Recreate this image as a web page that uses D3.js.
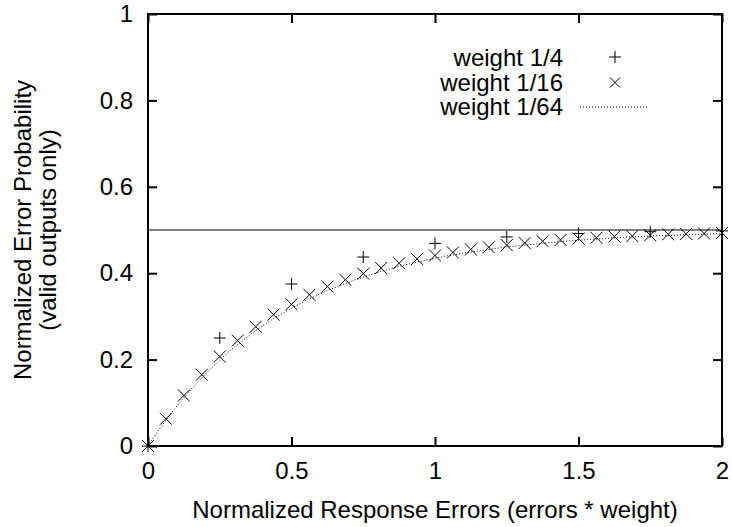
<!DOCTYPE html>
<html>
<head>
<meta charset="utf-8">
<script src="https://cdn.jsdelivr.net/npm/d3@7"></script>
<style>
    html, body { margin: 0; padding: 0; background: #fff; }
    svg { display: block; }
    text { font-family: "Liberation Sans", Arial, Helvetica, sans-serif; fill: #000; }
</style>
</head>
<body>
<div id="chart"></div>
<script>
// tick values
const xTicks = [0, 0.5, 1, 1.5, 2];
const yTicks = [0, 0.2, 0.4, 0.6, 0.8, 1];

// weight 1/4 (+) : x = errors / 4
const w4X = [0, 0.25, 0.5, 0.75, 1, 1.25, 1.5, 1.75, 2];
const w4Y = [0, 0.25, 0.375, 0.4375, 0.469, 0.484, 0.492, 0.496, 0.498];

// weight 1/16 (x) : x = errors / 16
const w16X = [0, 0.0625, 0.125, 0.1875, 0.25, 0.3125, 0.375, 0.4375, 0.5, 0.5625, 0.625, 0.6875,
    0.75, 0.8125, 0.875, 0.9375, 1, 1.0625, 1.125, 1.1875, 1.25, 1.3125, 1.375, 1.4375,
    1.5, 1.5625, 1.625, 1.6875, 1.75, 1.8125, 1.875, 1.9375, 2];
const w16Y = [0, 0.063, 0.117, 0.165, 0.207, 0.244, 0.276, 0.304, 0.328, 0.350, 0.369, 0.385,
    0.399, 0.412, 0.423, 0.433, 0.441, 0.448, 0.455, 0.460, 0.465, 0.470, 0.474, 0.477,
    0.480, 0.482, 0.485, 0.486, 0.488, 0.490, 0.491, 0.492, 0.493];

// weight 1/64 (dotted line), sampled every 1/32
const w64X = [0, 0.03125, 0.0625, 0.09375, 0.125, 0.15625, 0.1875, 0.21875, 0.25, 0.28125, 0.3125,
    0.34375, 0.375, 0.40625, 0.4375, 0.46875, 0.5, 0.53125, 0.5625, 0.59375, 0.625, 0.65625,
    0.6875, 0.71875, 0.75, 0.78125, 0.8125, 0.84375, 0.875, 0.90625, 0.9375, 0.96875, 1,
    1.03125, 1.0625, 1.09375, 1.125, 1.15625, 1.1875, 1.21875, 1.25, 1.28125, 1.3125, 1.34375,
    1.375, 1.40625, 1.4375, 1.46875, 1.5, 1.53125, 1.5625, 1.59375, 1.625, 1.65625, 1.6875,
    1.71875, 1.75, 1.78125, 1.8125, 1.84375, 1.875, 1.90625, 1.9375, 1.96875, 2];
const w64Y = [0, 0.031, 0.060, 0.087, 0.112, 0.136, 0.158, 0.179, 0.199, 0.218, 0.235,
    0.251, 0.267, 0.281, 0.295, 0.307, 0.319, 0.330, 0.341, 0.350, 0.360, 0.368,
    0.376, 0.384, 0.391, 0.398, 0.404, 0.410, 0.416, 0.421, 0.426, 0.430, 0.435,
    0.439, 0.442, 0.446, 0.449, 0.452, 0.455, 0.458, 0.461, 0.463, 0.465, 0.467,
    0.469, 0.471, 0.473, 0.475, 0.476, 0.478, 0.479, 0.480, 0.482, 0.483, 0.484,
    0.485, 0.486, 0.487, 0.487, 0.488, 0.489, 0.490, 0.490, 0.491, 0.491];

const limitY = 0.5;

const legendLabels = ['weight 1/4', 'weight 1/16', 'weight 1/64'];

class ErrorChart {
    constructor(containerId) {
        this.containerId = containerId;
        this.dimensions = {
            width: 732,
            height: 527,
            left: 148,
            right: 722,
            top: 14,
            bottom: 446
        };
        this.fontSize = 24;
        this.tickLen = 9;
    }

    draw() {
        const { width, height, left, right, top, bottom } = this.dimensions;

        const svg = d3.select(this.containerId)
            .append('svg')
            .attr('width', width)
            .attr('height', height);

        const x = d3.scaleLinear().domain([0, 2]).range([left, right]);
        const y = d3.scaleLinear().domain([0, 1]).range([bottom, top]);

        // ticks on all four sides (mirrored, pointing inward)
        const xAxis = d3.axisBottom(x).tickValues(xTicks).tickSize(-this.tickLen).tickFormat(d3.format('~g'));
        const xAxisTop = d3.axisTop(x).tickValues(xTicks).tickSize(-this.tickLen).tickFormat('');
        const yAxis = d3.axisLeft(y).tickValues(yTicks).tickSize(-this.tickLen).tickFormat(d3.format('~g'));
        const yAxisRight = d3.axisRight(y).tickValues(yTicks).tickSize(-this.tickLen).tickFormat('');

        const gx = svg.append('g').attr('transform', `translate(0,${bottom})`).call(xAxis);
        svg.append('g').attr('transform', `translate(0,${top})`).call(xAxisTop);
        const gy = svg.append('g').attr('transform', `translate(${left},0)`).call(yAxis);
        svg.append('g').attr('transform', `translate(${right},0)`).call(yAxisRight);

        svg.selectAll('.domain').remove();
        svg.selectAll('.tick line').attr('stroke', '#000').attr('stroke-width', 2);
        svg.selectAll('.tick text')
            .style('font-size', this.fontSize + 'px')
            .style('font-family', '"Liberation Sans", Arial, sans-serif')
            .attr('fill', '#000');
        gx.selectAll('.tick text').attr('y', 16);
        gy.selectAll('.tick text').attr('x', -15);

        // frame
        svg.append('rect')
            .attr('x', left)
            .attr('y', top)
            .attr('width', right - left)
            .attr('height', bottom - top)
            .attr('fill', 'none')
            .attr('stroke', '#000')
            .attr('stroke-width', 2);

        // y = 0.5 reference line
        svg.append('line')
            .attr('x1', x(0)).attr('x2', x(2))
            .attr('y1', y(limitY)).attr('y2', y(limitY))
            .attr('stroke', '#000')
            .attr('stroke-width', 1);

        // weight 1/64 dotted line
        const line = d3.line().x(d => x(d[0])).y(d => y(d[1]));
        svg.append('path')
            .datum(d3.zip(w64X, w64Y))
            .attr('d', line)
            .attr('fill', 'none')
            .attr('stroke', '#000')
            .attr('stroke-width', 1)
            .attr('stroke-dasharray', '1,2');

        const crossPath = s => `M${-s},${-s}L${s},${s}M${-s},${s}L${s},${-s}`;
        const plusPath = s => `M${-s},0L${s},0M0,${-s}L0,${s}`;

        // weight 1/16 crosses
        svg.append('g')
            .selectAll('path')
            .data(d3.zip(w16X, w16Y))
            .enter()
            .append('path')
            .attr('transform', d => `translate(${x(d[0])},${y(d[1])})`)
            .attr('d', crossPath(6))
            .attr('stroke', '#000')
            .attr('stroke-width', 1)
            .attr('fill', 'none');

        // weight 1/4 plus signs
        svg.append('g')
            .selectAll('path')
            .data(d3.zip(w4X, w4Y))
            .enter()
            .append('path')
            .attr('transform', d => `translate(${x(d[0])},${y(d[1])})`)
            .attr('d', plusPath(6))
            .attr('stroke', '#000')
            .attr('stroke-width', 1)
            .attr('fill', 'none');

        // legend
        const legend = svg.append('g');
        legendLabels.forEach((label, i) => {
            legend.append('text')
                .attr('x', 563)
                .attr('y', 58 + i * 24.5)
                .attr('dy', '0.35em')
                .attr('text-anchor', 'end')
                .style('font-size', this.fontSize + 'px')
                .text(label);
        });
        legend.append('path')
            .attr('transform', 'translate(615,57)')
            .attr('d', plusPath(6))
            .attr('stroke', '#000')
            .attr('fill', 'none');
        legend.append('path')
            .attr('transform', 'translate(615,82.5)')
            .attr('d', crossPath(5))
            .attr('stroke', '#000')
            .attr('fill', 'none');
        legend.append('line')
            .attr('x1', 580).attr('x2', 648)
            .attr('y1', 107).attr('y2', 107)
            .attr('stroke', '#000')
            .attr('stroke-dasharray', '1,2');

        // axis titles
        svg.append('text')
            .attr('x', (left + right) / 2)
            .attr('y', 510)
            .attr('dy', '0.35em')
            .attr('text-anchor', 'middle')
            .style('font-size', this.fontSize + 'px')
            .text('Normalized Response Errors (errors * weight)');

        const yTitle = svg.append('text')
            .attr('transform', `translate(0,${(top + bottom) / 2}) rotate(-90)`)
            .attr('text-anchor', 'middle')
            .style('font-size', this.fontSize + 'px');
        yTitle.append('tspan').attr('x', 0).attr('y', 23).attr('dy', '0.35em').text('Normalized Error Probability');
        yTitle.append('tspan').attr('x', 0).attr('y', 48).attr('dy', '0.35em').text('(valid outputs only)');
    }
}

document.addEventListener('DOMContentLoaded', () => {
    const chart = new ErrorChart('#chart');
    chart.draw();
});
</script>
</body>
</html>
